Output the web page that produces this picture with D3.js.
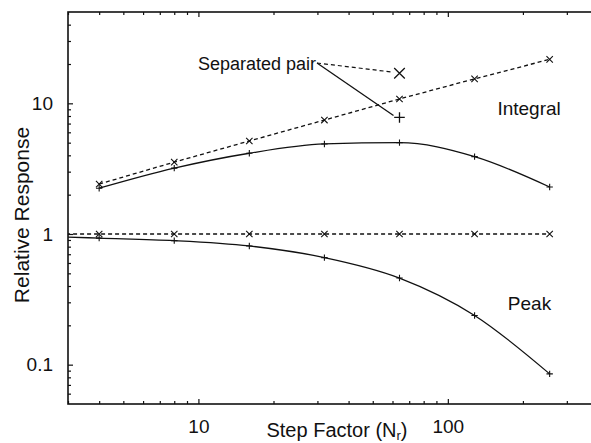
<!DOCTYPE html>
<html>
<script src='https://d3js.org/d3.v7.min.js'></script>
<style>
 body {margin:0; background:#fff;}
 text {font-family: 'Liberation Sans', Arial, sans-serif; fill:#111;}
 .tick line {stroke:#111; stroke-width:1.2;}
</style>
<body onload='init()'>
<svg width=591 height=443></svg>
<script>

// step factors (x) and responses
var steps = [4, 8, 16, 32, 64, 128, 256];
var integralCross = [2.41, 3.55, 5.15, 7.45, 10.8, 15.4, 21.7];
var integralPlus = [2.24, 3.19, 4.15, 4.89, 5.0, 3.91, 2.29];
var peakSteps = [2, 4, 8, 16, 32, 64, 128, 256];
var peakCross = [1.0, 1.0, 1.0, 1.0, 1.0, 1.0, 1.0, 1.0];
var peakPlus = [0.97, 0.93, 0.89, 0.81, 0.66, 0.46, 0.238, 0.085];
// separated pair at N = 64
var pairStep = 64;
var pairCross = 17;
var pairPlus = 7.8;

var xMajor = [10, 100];
var xMinor = [3, 4, 5, 6, 7, 8, 9, 20, 30, 40, 50, 60, 70, 80, 90, 200, 300];
var yMajor = [0.1, 1, 10];
var yMinor = [0.06, 0.07, 0.08, 0.09, 0.2, 0.3, 0.4, 0.5, 0.6, 0.7, 0.8, 0.9,
              2, 3, 4, 5, 6, 7, 8, 9, 20, 30, 40];

function init() {
 var svg = d3.select('svg');
 var x = d3.scaleLog().domain([3, 400]).range([68, 598]);
 var y = d3.scaleLog().domain([0.05, 50]).range([404, 12]);
 var fmt = function(d) { return d3.format('~g')(d); };

 svg.append('defs').append('clipPath').attr('id', 'clip')
  .append('rect').attr('x', 68).attr('y', 12).attr('width', 540).attr('height', 392);

 // axes (ticks point inwards)
 var bottom = svg.append('g').attr('transform', 'translate(0,404)');
 bottom.append('g').call(d3.axisBottom(x).tickValues(xMajor).tickSize(-5).tickPadding(16).tickFormat(fmt));
 bottom.append('g').call(d3.axisBottom(x).tickValues(xMinor).tickSize(-3).tickFormat(''));
 var top = svg.append('g').attr('transform', 'translate(0,12)');
 top.append('g').call(d3.axisTop(x).tickValues(xMajor).tickSize(-5).tickFormat(''));
 top.append('g').call(d3.axisTop(x).tickValues(xMinor).tickSize(-3).tickFormat(''));
 var left = svg.append('g').attr('transform', 'translate(68,0)');
 left.append('g').call(d3.axisLeft(y).tickValues(yMajor).tickSize(-5).tickPadding(15).tickFormat(fmt));
 left.append('g').call(d3.axisLeft(y).tickValues(yMinor).tickSize(-3).tickFormat(''));
 svg.selectAll('.domain').remove();
 svg.selectAll('.tick text').style('font-size', '19px').style('fill', '#111');

 svg.append('rect').attr('x', 68).attr('y', 12).attr('width', 530).attr('height', 392)
  .attr('fill', 'none').attr('stroke', '#111').attr('stroke-width', 1.6);

 var plot = svg.append('g').attr('clip-path', 'url(#clip)');

 function series(xs, ys, dashed, curve, marker) {
  var pts = xs.map(function(d, i) { return [x(d), y(ys[i])]; });
  plot.append('path')
   .attr('d', d3.line().curve(curve)(pts))
   .attr('fill', 'none').attr('stroke', '#111').attr('stroke-width', 1.3)
   .attr('stroke-dasharray', dashed ? '4,3' : null);
  pts.forEach(function(p) { marker(plot, p[0], p[1], 3.2, 1.1); });
 }
 function cross(g, cx, cy, s, w) {
  g.append('path').attr('d', 'M' + (cx - s) + ',' + (cy - s) + 'L' + (cx + s) + ',' + (cy + s) +
    'M' + (cx - s) + ',' + (cy + s) + 'L' + (cx + s) + ',' + (cy - s))
   .attr('stroke', '#111').attr('stroke-width', w);
 }
 function plus(g, cx, cy, s, w) {
  g.append('path').attr('d', 'M' + (cx - s) + ',' + cy + 'L' + (cx + s) + ',' + cy +
    'M' + cx + ',' + (cy - s) + 'L' + cx + ',' + (cy + s))
   .attr('stroke', '#111').attr('stroke-width', w);
 }

 series(steps, integralCross, true, d3.curveLinear, cross);
 series(steps, integralPlus, false, d3.curveMonotoneX, plus);
 series(peakSteps, peakCross, true, d3.curveLinear, cross);
 series(peakSteps, peakPlus, false, d3.curveMonotoneX, plus);

 // separated pair annotation
 var ax = 317, ay = 63;
 svg.append('text').attr('x', ax - 1).attr('y', ay + 7).attr('text-anchor', 'end')
  .style('font-size', '18px').text('Separated pair');
 var px = x(pairStep), pyc = y(pairCross), pyp = y(pairPlus);
 svg.append('line').attr('x1', ax).attr('y1', ay).attr('x2', px - 6).attr('y2', pyc - 1)
  .attr('stroke', '#111').attr('stroke-width', 1.2).attr('stroke-dasharray', '4,3');
 svg.append('line').attr('x1', ax).attr('y1', ay).attr('x2', px - 6).attr('y2', pyp - 2)
  .attr('stroke', '#111').attr('stroke-width', 1.3);
 cross(svg, px, pyc, 5.3, 1.3);
 plus(svg, px, pyp, 5.3, 1.3);

 svg.append('text').attr('x', x(158)).attr('y', y(8.1)).style('font-size', '19px').text('Integral');
 svg.append('text').attr('x', x(174)).attr('y', y(0.264)).style('font-size', '19px').text('Peak');

 // axis titles
 var xt = svg.append('text').attr('x', 337).attr('y', 437).attr('text-anchor', 'middle')
  .style('font-size', '20px').text('Step Factor (N');
 xt.append('tspan').attr('dy', 3).style('font-size', '13px').text('r');
 xt.append('tspan').attr('dy', -3).text(')');
 svg.append('text').attr('transform', 'translate(29,215) rotate(-90)').attr('text-anchor', 'middle')
  .style('font-size', '21px').text('Relative Response');
}

</script>
</body>
</html>
